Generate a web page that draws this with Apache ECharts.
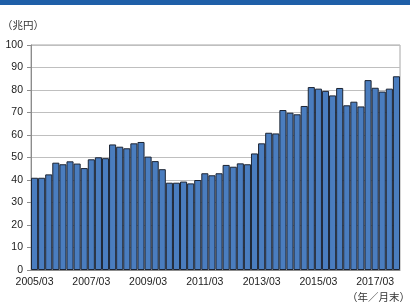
<!DOCTYPE html>
<html>
<head>
<meta charset="utf-8">
<script src="https://cdn.jsdelivr.net/npm/echarts@6/dist/echarts.min.js"></script>
<style>
  html, body { margin: 0; padding: 0; background: #fff; }
  #chart { width: 410px; height: 304px; }
</style>
</head>
<body>
<div id="chart"></div>
<script>
// 四半期末 2005/03 〜 2017/12
const years = ['2005', '2006', '2007', '2008', '2009', '2010', '2011', '2012', '2013', '2014', '2015', '2016', '2017']
const months = ['03', '06', '09', '12']
const quarters = []
years.forEach(y => months.forEach(m => quarters.push(y + '/' + m)))

// 残高（兆円）
const values = [
  41, 41, 42.5, 47.7, 47, 48.3, 47.3, 45.3,
  49.2, 50.1, 49.7, 55.8, 54.8, 54.1, 56.3, 56.9,
  50.4, 48.4, 44.8, 38.8, 38.8, 39.3, 38.5, 40,
  43, 42.1, 43, 46.7, 45.9, 47.4, 47, 51.8,
  56.3, 61, 60.7, 71.1, 69.9, 69.2, 72.9, 81.3,
  80.6, 79.6, 77.6, 80.9, 73.2, 74.8, 72.7, 84.4,
  81, 79.3, 80.6, 86.1
]

const yTicks = { min: 0, max: 100, interval: 10 }

const chart = echarts.init(document.getElementById('chart'))
const numFont = '"Liberation Sans", Arial, sans-serif'
const jpFont = '"Noto Sans CJK JP", sans-serif'

chart.setOption({
  animation: false,
  graphic: [
    {
      type: 'rect',
      left: 0, top: 0,
      shape: { width: 410, height: 5 },
      style: { fill: '#1f5fa8' }
    },
    {
      type: 'text',
      left: 2, top: 20,
      style: { text: '（兆円）', fontSize: 10.5, fontFamily: jpFont, fill: '#333' }
    },
    {
      type: 'text',
      right: 0, top: 292,
      style: { text: '（年／月末）', fontSize: 10.5, fontFamily: jpFont, fill: '#333' }
    }
  ],
  grid: {
    left: 31, right: 10, top: 45, bottom: 34,
    show: true,
    borderColor: '#a6a6a6',
    borderWidth: 1
  },
  xAxis: {
    type: 'category',
    data: quarters,
    boundaryGap: true,
    axisLine: { lineStyle: { color: '#8c8c8c' } },
    axisTick: { interval: 3, length: 4, lineStyle: { color: '#8c8c8c' } },
    axisLabel: {
      interval: 7,
      color: '#222',
      fontSize: 10.5,
      fontFamily: numFont,
      margin: 7
    }
  },
  yAxis: {
    type: 'value',
    min: yTicks.min,
    max: yTicks.max,
    interval: yTicks.interval,
    axisLine: { show: true, lineStyle: { color: '#8c8c8c' } },
    axisTick: { show: true, length: 4, lineStyle: { color: '#8c8c8c' } },
    axisLabel: { color: '#222', fontSize: 10.5, fontFamily: numFont, margin: 8 },
    splitLine: { lineStyle: { color: '#bfbfbf', width: 1 } }
  },
  series: [{
    type: 'bar',
    data: values,
    barCategoryGap: '0%',
    itemStyle: {
      color: '#4a7dbf',
      borderColor: '#1c2433',
      borderWidth: 1
    }
  }]
})
</script>
</body>
</html>
